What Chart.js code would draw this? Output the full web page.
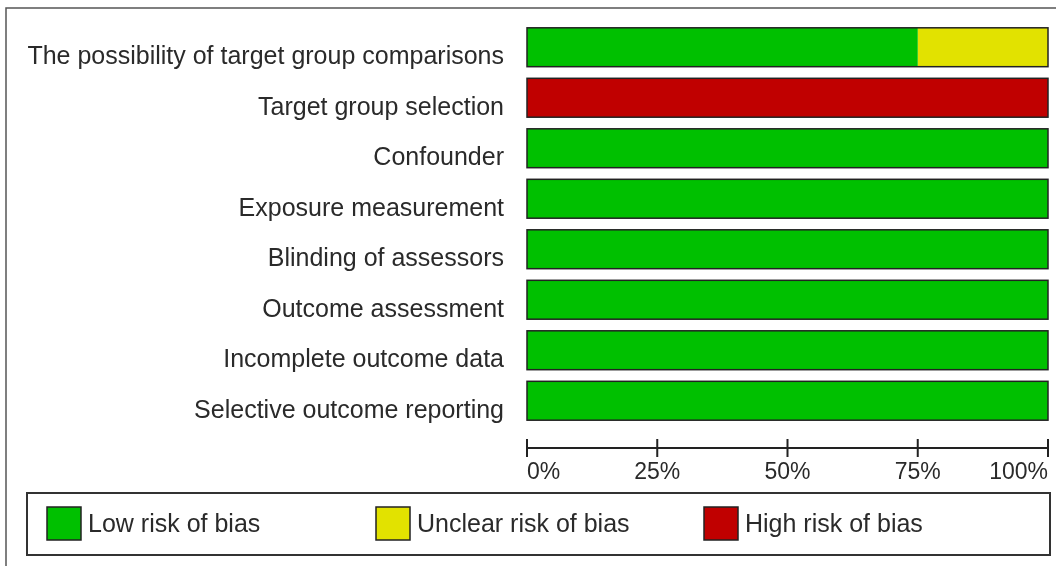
<!DOCTYPE html>
<html>
<head>
<meta charset="utf-8">
<style>
html,body{margin:0;padding:0;background:#fff;}
#wrap{position:relative;width:1056px;height:566px;}
</style>
<script src="https://cdn.jsdelivr.net/npm/chart.js@4/dist/chart.umd.min.js"></script>
</head>
<body>
<div id="wrap"><canvas id="c" width="1056" height="566"></canvas></div>
<script>
const categories = [
  "The possibility of target group comparisons",
  "Target group selection",
  "Confounder",
  "Exposure measurement",
  "Blinding of assessors",
  "Outcome assessment",
  "Incomplete outcome data",
  "Selective outcome reporting"
];
const lowRisk     = [75, 0, 100, 100, 100, 100, 100, 100];
const unclearRisk = [25, 0, 0, 0, 0, 0, 0, 0];
const highRisk    = [0, 100, 0, 0, 0, 0, 0, 0];
const tickValues  = [0, 25, 50, 75, 100];
const tickLabels  = ["0%", "25%", "50%", "75%", "100%"];
const seriesNames = ["Low risk of bias", "Unclear risk of bias", "High risk of bias"];

const COLORS = ["#00C000", "#E2E200", "#C00000"];
const FONT = "'Liberation Sans', Arial, sans-serif";
const TEXT = "#2a2a2a";

const decor = {
  id: "decor",
  afterDatasetsDraw(chart) {
    const ctx = chart.ctx;
    const x = chart.scales.x;
    const x0 = x.getPixelForValue(0), x1 = x.getPixelForValue(100);
    const meta = chart.getDatasetMeta(0);
    ctx.save();
    ctx.strokeStyle = "#222";
    ctx.lineWidth = 1.5;
    meta.data.forEach(el => {
      const h = el.height;
      ctx.strokeRect(x0, el.y - h / 2, x1 - x0, h);
    });
    ctx.strokeStyle = "#555";
    ctx.lineWidth = 1.5;
    ctx.beginPath();
    ctx.moveTo(6, 566); ctx.lineTo(6, 8); ctx.lineTo(1056, 8);
    ctx.stroke();
    const ay = 448;
    ctx.strokeStyle = "#222";
    ctx.lineWidth = 2;
    ctx.beginPath();
    ctx.moveTo(x0, ay); ctx.lineTo(x1, ay);
    tickValues.forEach(v => {
      const px = x.getPixelForValue(v);
      ctx.moveTo(px, 439); ctx.lineTo(px, 457);
    });
    ctx.stroke();
    ctx.fillStyle = TEXT;
    ctx.font = "23px " + FONT;
    ctx.textBaseline = "top";
    tickValues.forEach((v, i) => {
      const px = x.getPixelForValue(v);
      ctx.textAlign = i === 0 ? "left" : (i === tickValues.length - 1 ? "right" : "center");
      ctx.fillText(tickLabels[i], px, 461);
    });
    ctx.strokeStyle = "#333";
    ctx.lineWidth = 2;
    ctx.strokeRect(27, 493, 1023, 62);
    const itemX = [47, 376, 704];
    ctx.font = "25px " + FONT;
    ctx.textAlign = "left";
    ctx.textBaseline = "middle";
    chart.data.datasets.forEach((ds, i) => {
      ctx.fillStyle = ds.backgroundColor;
      ctx.fillRect(itemX[i], 507, 34, 33);
      ctx.strokeStyle = "#222";
      ctx.lineWidth = 1.5;
      ctx.strokeRect(itemX[i], 507, 34, 33);
      ctx.fillStyle = TEXT;
      ctx.fillText(ds.label, itemX[i] + 41, 525);
    });
    ctx.restore();
  }
};

new Chart(document.getElementById("c"), {
  type: "bar",
  data: {
    labels: categories,
    datasets: [
      { label: seriesNames[0], data: lowRisk, backgroundColor: COLORS[0] },
      { label: seriesNames[1], data: unclearRisk, backgroundColor: COLORS[1] },
      { label: seriesNames[2], data: highRisk, backgroundColor: COLORS[2] }
    ]
  },
  options: {
    indexAxis: "y",
    responsive: false,
    animation: false,
    devicePixelRatio: 1,
    layout: { padding: { left: 0, right: 8, top: 22, bottom: 140 } },
    datasets: { bar: { categoryPercentage: 1, barPercentage: 0.77, borderWidth: 0 } },
    plugins: { legend: { display: false }, tooltip: { enabled: false } },
    scales: {
      x: { stacked: true, min: 0, max: 100, display: false },
      y: {
        stacked: true,
        grid: { display: false, drawTicks: false },
        border: { display: false },
        ticks: { color: TEXT, font: { family: FONT, size: 25 }, padding: 23, labelOffset: 10 },
        afterFit(scale) { scale.width = 527; scale.paddingTop = 0; scale.paddingBottom = 0; }
      }
    }
  },
  plugins: [decor]
});
</script>
</body>
</html>
